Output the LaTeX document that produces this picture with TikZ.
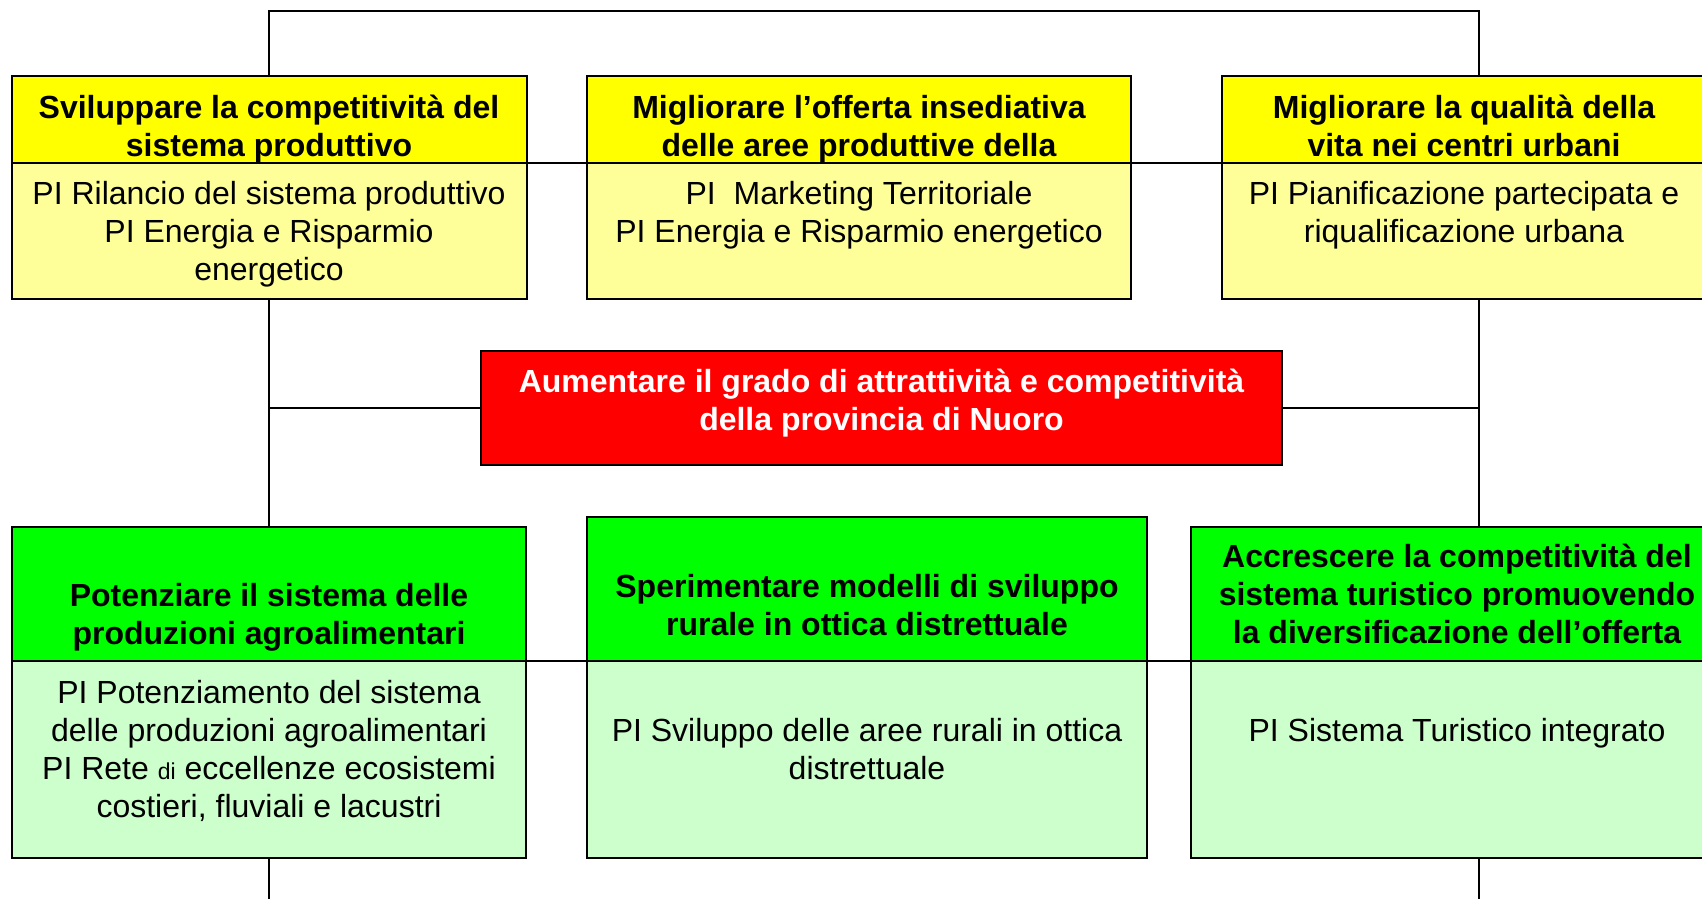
\documentclass[tikz,border=0pt]{standalone}
\usepackage{fontspec}
\setmainfont{Liberation Sans}
\definecolor{yhead}{RGB}{255,255,0}
\definecolor{ybody}{RGB}{255,255,153}
\definecolor{ghead}{RGB}{0,255,0}
\definecolor{gbody}{RGB}{204,255,204}
\definecolor{redbox}{RGB}{255,0,0}
\tikzset{
  box/.style={draw=black, line width=2pt, inner sep=0pt, outer sep=0pt, anchor=north west},
  conn/.style={draw=black, line width=2pt},
  hd/.style={anchor=base, inner sep=0pt, font=\bfseries\fontsize{32}{38}\selectfont},
  bd/.style={anchor=base, inner sep=0pt, font=\fontsize{32}{38}\selectfont},
}
\begin{document}
\begin{tikzpicture}[x=1pt, y=-1pt]
\useasboundingbox (0,0) rectangle (1702,899);
\clip (0,0) rectangle (1702,899);
% coordinates
\coordinate (ytop) at (0,11);
\coordinate (ybot) at (0,905);
\coordinate (rtop) at (1479,76);
\coordinate (rmid) at (1479,298.5);
% top row boxes
\node[box, fill=yhead, minimum width=514.5pt, minimum height=87pt] (b1h) at (12,76) {};
\node[box, fill=ybody, minimum width=514.5pt, minimum height=135.5pt] (b1b) at (12,163) {};
\node[box, fill=yhead, minimum width=544pt, minimum height=87pt] (b2h) at (587,76) {};
\node[box, fill=ybody, minimum width=544pt, minimum height=135.5pt] (b2b) at (587,163) {};
\node[box, fill=yhead, minimum width=530pt, minimum height=87pt] (b3h) at (1222,76) {};
\node[box, fill=ybody, minimum width=530pt, minimum height=135.5pt] (b3b) at (1222,163) {};
% red box
\node[box, fill=redbox, minimum width=801pt, minimum height=114pt] (red) at (481,350.5) {};
% bottom row boxes
\node[box, fill=ghead, minimum width=514pt, minimum height=134.5pt] (g1h) at (12,526.5) {};
\node[box, fill=gbody, minimum width=514pt, minimum height=196.5pt] (g1b) at (12,661) {};
\node[box, fill=ghead, minimum width=560pt, minimum height=144pt] (g2h) at (587,517) {};
\node[box, fill=gbody, minimum width=560pt, minimum height=196.5pt] (g2b) at (587,661) {};
\node[box, fill=ghead, minimum width=560pt, minimum height=134.5pt] (g3h) at (1191,526.5) {};
\node[box, fill=gbody, minimum width=560pt, minimum height=196.5pt] (g3b) at (1191,661) {};
% connectors
\draw[conn] (b1h.north) -- (b1h.north |- ytop) -| (rtop);
\draw[conn] (b1h.south east) -- (b2h.south west);
\draw[conn] (b2h.south east) -- (b3h.south west);
\draw[conn] (b1b.south) -- (b1b.south |- g1h.north);
\draw[conn] (rmid) -- (rmid |- g3h.north);
\draw[conn] (red.west) -- (red.west -| b1b.south);
\draw[conn] (red.east) -- (red.east -| rmid);
\draw[conn] (g1b.north east) -- (g2b.north west);
\draw[conn] (g2b.north east) -- (g3b.north west);
\draw[conn] (g1b.south) -- (g1b.south |- ybot);
\draw[conn] (g3b.south -| rmid) -- (rmid |- ybot);
% texts: box 1
\node[hd] (t1a) at (269,118) {Sviluppare la competitività del};
\node[hd] (t1b) at (269,156) {sistema produttivo};
\node[bd] (t1c) at (269,204) {PI Rilancio del sistema produttivo};
\node[bd] (t1d) at (269,242) {PI Energia e Risparmio};
\node[bd] (t1e) at (269,280) {energetico};
% box 2
\node[hd] (t2a) at (859,118) {Migliorare l’offerta insediativa};
\node[hd] (t2b) at (859,156) {delle aree produttive della};
\node[bd] (t2c) at (859,204) {PI\ \ Marketing Territoriale};
\node[bd] (t2d) at (859,242) {PI Energia e Risparmio energetico};
% box 3
\node[hd] (t3a) at (1464,118) {Migliorare la qualità della};
\node[hd] (t3b) at (1464,156) {vita nei centri urbani};
\node[bd] (t3c) at (1464,204) {PI Pianificazione partecipata e};
\node[bd] (t3d) at (1464,242) {riqualificazione urbana};
% red
\node[hd, text=white] (tra) at (881.5,392) {Aumentare il grado di attrattività e competitività};
\node[hd, text=white] (trb) at (881.5,430) {della provincia di Nuoro};
% green 1
\node[hd] (g1a) at (269,606) {Potenziare il sistema delle};
\node[hd] (g1bt) at (269,644) {produzioni agroalimentari};
\node[bd] (g1c) at (269,703) {PI Potenziamento del sistema};
\node[bd] (g1d) at (269,741) {delle produzioni agroalimentari};
\node[bd] (g1e) at (269,779) {PI Rete {\fontsize{23}{26}\selectfont di} eccellenze ecosistemi};
\node[bd] (g1f) at (269,817) {costieri, fluviali e lacustri};
% green 2
\node[hd] (g2a) at (867,597) {Sperimentare modelli di sviluppo};
\node[hd] (g2bt) at (867,635) {rurale in ottica distrettuale};
\node[bd] (g2c) at (867,741) {PI Sviluppo delle aree rurali in ottica};
\node[bd] (g2d) at (867,779) {distrettuale};
% green 3
\node[hd] (g3a) at (1457,567) {Accrescere la competitività del};
\node[hd] (g3bt) at (1457,605) {sistema turistico promuovendo};
\node[hd] (g3c) at (1457,643) {la diversificazione dell’offerta};
\node[bd] (g3d) at (1457,741) {PI Sistema Turistico integrato};
\end{tikzpicture}
\end{document}
